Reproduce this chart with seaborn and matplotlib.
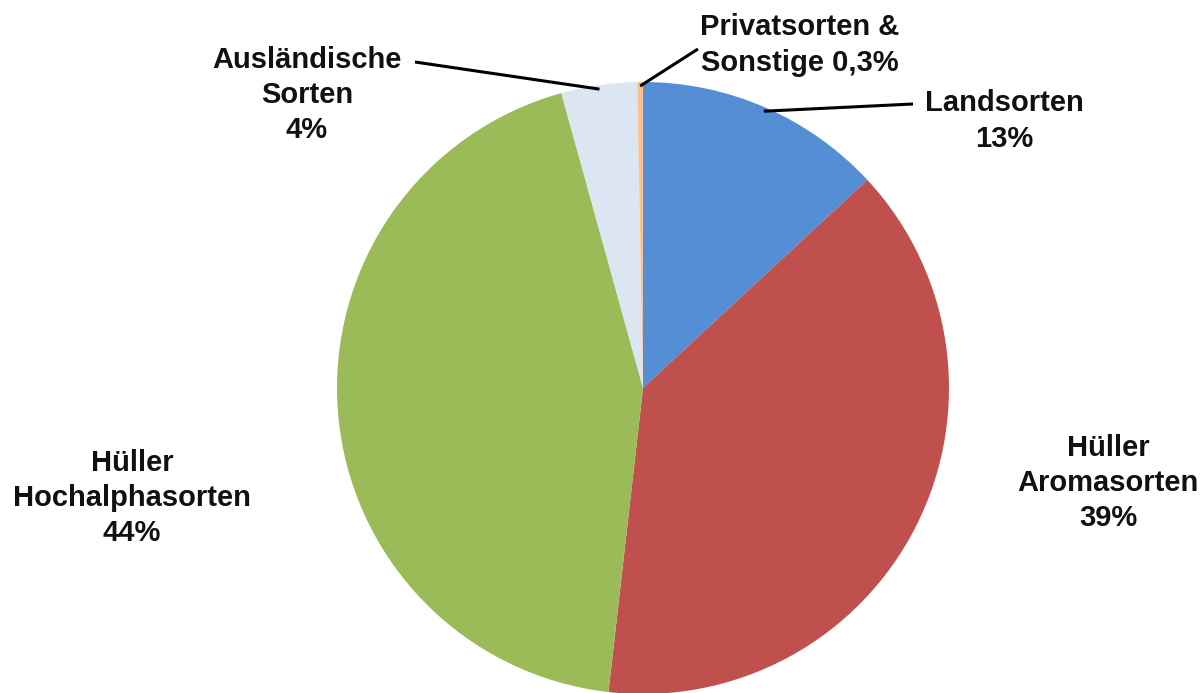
import numpy as np
import matplotlib
matplotlib.use("Agg")
import matplotlib.pyplot as plt
import seaborn as sns

categories = ["Landsorten", "Hüller Aromasorten", "Hüller Hochalphasorten",
              "Ausländische Sorten", "Privatsorten & Sonstige"]
values = [13.1, 38.7, 43.9, 4.0, 0.3]
label_texts = ["Landsorten\n13%", "Hüller\nAromasorten\n39%", "Hüller\nHochalphasorten\n44%",
               "Ausländische\nSorten\n4%", "Privatsorten &\nSonstige 0,3%"]
colors = ["#558ED5", "#C0504D", "#9BBB59", "#DCE6F2", "#FAC090"]

sns.set_theme(style="white")
plt.rcParams['font.family'] = ['Liberation Sans', 'DejaVu Sans']

W, H = 1202, 693
fig = plt.figure(figsize=(W / 100, H / 100), dpi=100)
ax = fig.add_axes([0, 0, 1, 1])

cx, cy, r = 643, H - 388, 306
ax.pie(values, colors=colors, startangle=90, counterclock=False,
       center=(cx, cy), radius=r, frame=True,
       wedgeprops=dict(linewidth=0))
ax.set_xlim(0, W)
ax.set_ylim(0, H)
ax.set_aspect("equal")
ax.axis("off")

# label placements (pixel coords, y from top) and leader-line ends
label_pos = [(1004, 121), (1108, 483), (132, 498), (307, 95), (800, 45)]
leader_end = [(913, 104), None, None, (415, 62), (698, 49)]

cum = np.cumsum([0] + values)
total = sum(values)
for i, (txt, (lx, ly)) in enumerate(zip(label_texts, label_pos)):
    ax.text(lx, H - ly, txt, ha="center", va="center", fontsize=21,
            fontweight="bold", color="#111111", linespacing=1.33)
    if leader_end[i] is not None:
        mid = (cum[i] + cum[i + 1]) / 2 / total * 360
        ang = np.deg2rad(90 - mid)
        sx = cx + (r - 4) * np.cos(ang)
        sy = cy + (r - 4) * np.sin(ang)
        ex, ey = leader_end[i]
        ax.plot([sx, ex], [sy, H - ey], color="black", lw=2.2, solid_capstyle="butt")

fig.savefig("out.png", dpi=100)
